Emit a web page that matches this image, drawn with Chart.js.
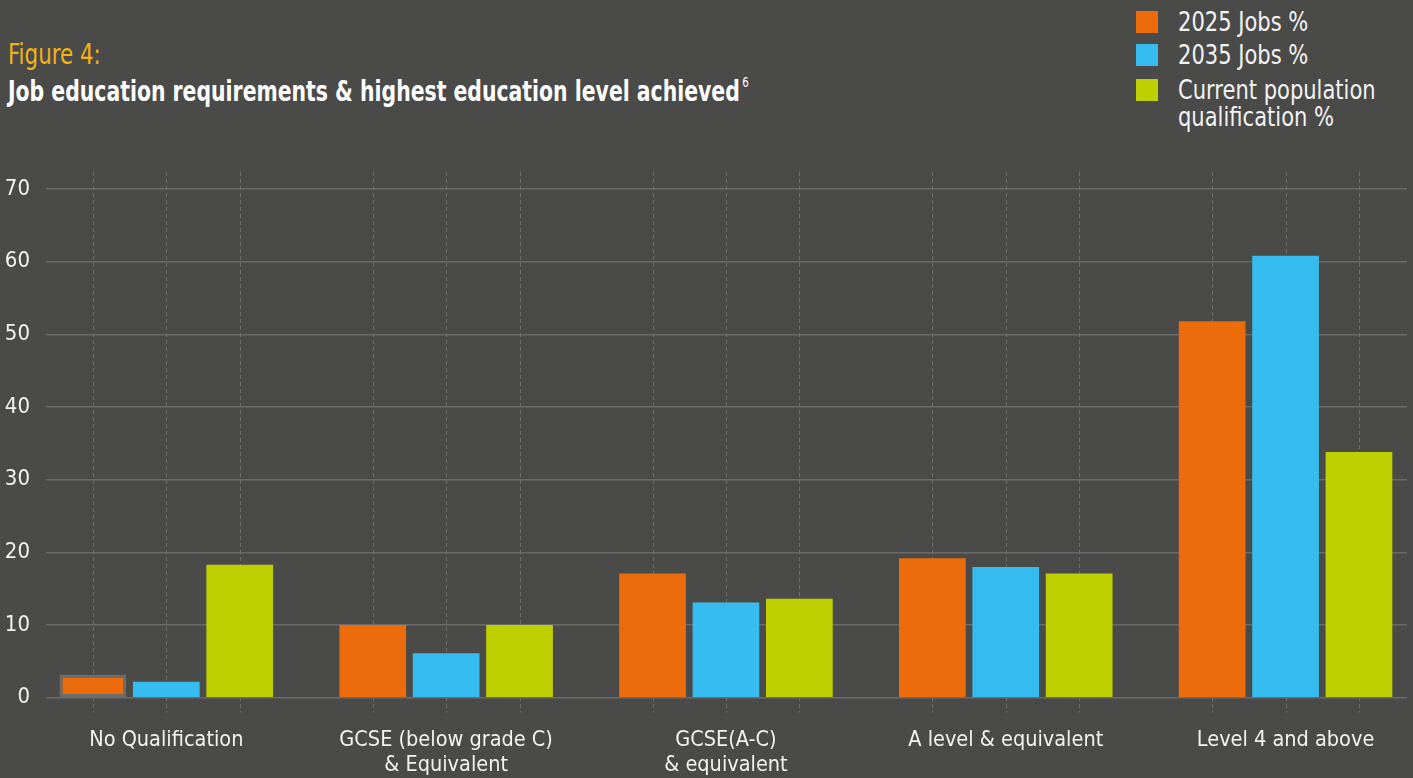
<!DOCTYPE html>
<html>
<head>
<meta charset="utf-8">
<script src="https://cdn.jsdelivr.net/npm/chart.js@4"></script>
<style>
  html, body { margin: 0; padding: 0; background: #4a4a49; overflow: hidden; }
  body { width: 1413px; height: 778px; position: relative; font-family: "DejaVu Sans Condensed", "Liberation Sans", sans-serif; }
  #fig { position: absolute; left: 8px; top: 38px; color: #f2b316; font-size: 28px; transform: scaleX(0.85); transform-origin: left top; }
  #title { position: absolute; left: 8px; top: 74px; color: #fff; font-size: 28px; font-weight: bold; white-space: nowrap; transform: scaleX(0.81); transform-origin: left top; }
  #title sup { font-size: 14px; font-weight: normal; vertical-align: 14px; margin-left: 3px; }
  #legend { position: absolute; left: 1136px; top: 9px; color: #f4f4f4; font-size: 26px; line-height: 27px; }
  .item { position: relative; padding-left: 42px; margin-bottom: 6px; }
  .item:last-child { margin-top: 8px; }
  .txt { display: inline-block; transform: scaleX(0.9); transform-origin: left top; white-space: nowrap; }
  .sw { position: absolute; left: 0; top: 2px; width: 22px; height: 22px; }
  #wrap { position: absolute; left: 0; top: 0; width: 1413px; height: 806px; }
</style>
</head>
<body>
<div id="fig">Figure 4:</div>
<div id="title">Job education requirements &amp; highest education level achieved<sup>6</sup></div>
<div id="legend"></div>
<div id="wrap"><canvas id="chart"></canvas></div>
<script>
const categories = [
  ["No Qualification"],
  ["GCSE (below grade C)", "& Equivalent"],
  ["GCSE(A-C)", "& equivalent"],
  ["A level & equivalent"],
  ["Level 4 and above"]
];
const seriesNames = [["2025 Jobs %"], ["2035 Jobs %"], ["Current population", "qualification %"]];
const jobs2025 = [3.2, 10, 17.1, 19.2, 51.8];
const jobs2035 = [2.2, 6.1, 13.1, 18.0, 60.8];
const population = [18.3, 10, 13.6, 17.1, 33.8];
const yTicks = [0, 10, 20, 30, 40, 50, 60, 70];
const colors = ['#ec6c0b', '#36bcee', '#bfd000'];

const allSeries = [jobs2025, jobs2035, population];

// html legend
const legend = document.getElementById('legend');
seriesNames.forEach((name, i) => {
  const d = document.createElement('div');
  d.className = 'item';
  d.innerHTML = '<span class="sw" style="background:' + colors[i] + '"></span><span class="txt">' + name.join('<br>') + '</span>';
  legend.appendChild(d);
});

const datasets = allSeries.map((vals, i) => ({
  label: seriesNames[i].join(' '),
  data: vals.map((v, j) => ({ x: j, y: v })),
  backgroundColor: colors[i],
  borderColor: '#6c6c6a',
  borderWidth: i == 0 ? [3, 0, 0, 0, 0] : 0,
  borderSkipped: false,
  categoryPercentage: 0.787,
  barPercentage: 0.909
}));

// dashed vertical lines through each bar centre
const dashLines = {
  id: 'dashLines',
  beforeDatasetsDraw(chart) {
    const ctx = chart.ctx;
    const a = chart.chartArea;
    ctx.save();
    ctx.strokeStyle = '#6e6e6c';
    ctx.lineWidth = 1;
    ctx.setLineDash([4, 3]);
    chart.data.datasets.forEach((ds, i) => {
      chart.getDatasetMeta(i).data.forEach(el => {
        const x = Math.round(el.x) + 0.5;
        ctx.beginPath();
        ctx.moveTo(x, a.top - 17);
        ctx.lineTo(x, a.bottom + 15);
        ctx.stroke();
      });
    });
    ctx.restore();
  }
};

Chart.defaults.font.family = '"DejaVu Sans Condensed", "Liberation Sans", sans-serif';

new Chart(document.getElementById('chart'), {
  type: 'bar',
  data: { datasets: datasets },
  plugins: [dashLines],
  options: {
    responsive: true,
    maintainAspectRatio: false,
    animation: false,
    layout: { padding: { top: 189, right: 6, left: 0, bottom: 6 } },
    plugins: { legend: { display: false }, tooltip: { enabled: false } },
    scales: {
      x: {
        type: 'linear',
        min: -0.43,
        max: 4.434,
        offset: false,
        grid: { display: false },
        border: { display: false },
        ticks: {
          stepSize: 1,
          includeBounds: false,
          autoSkip: false,
          maxRotation: 0,
          padding: 22,
          color: '#f2f2f2',
          font: { size: 21.5, lineHeight: 1.17 },
          callback: v => Number.isInteger(v) && categories[v] ? categories[v] : ''
        }
      },
      y: {
        min: 0,
        max: 70,
        afterBuildTicks: s => { s.ticks = yTicks.map(v => ({ value: v })); },
        afterFit: s => { s.width = 46; },
        grid: { color: '#6a6a68', lineWidth: 1.5, drawTicks: false },
        border: { display: false },
        ticks: { padding: 16, color: '#f2f2f2', font: { size: 22 } }
      }
    }
  }
});
</script>
</body>
</html>
